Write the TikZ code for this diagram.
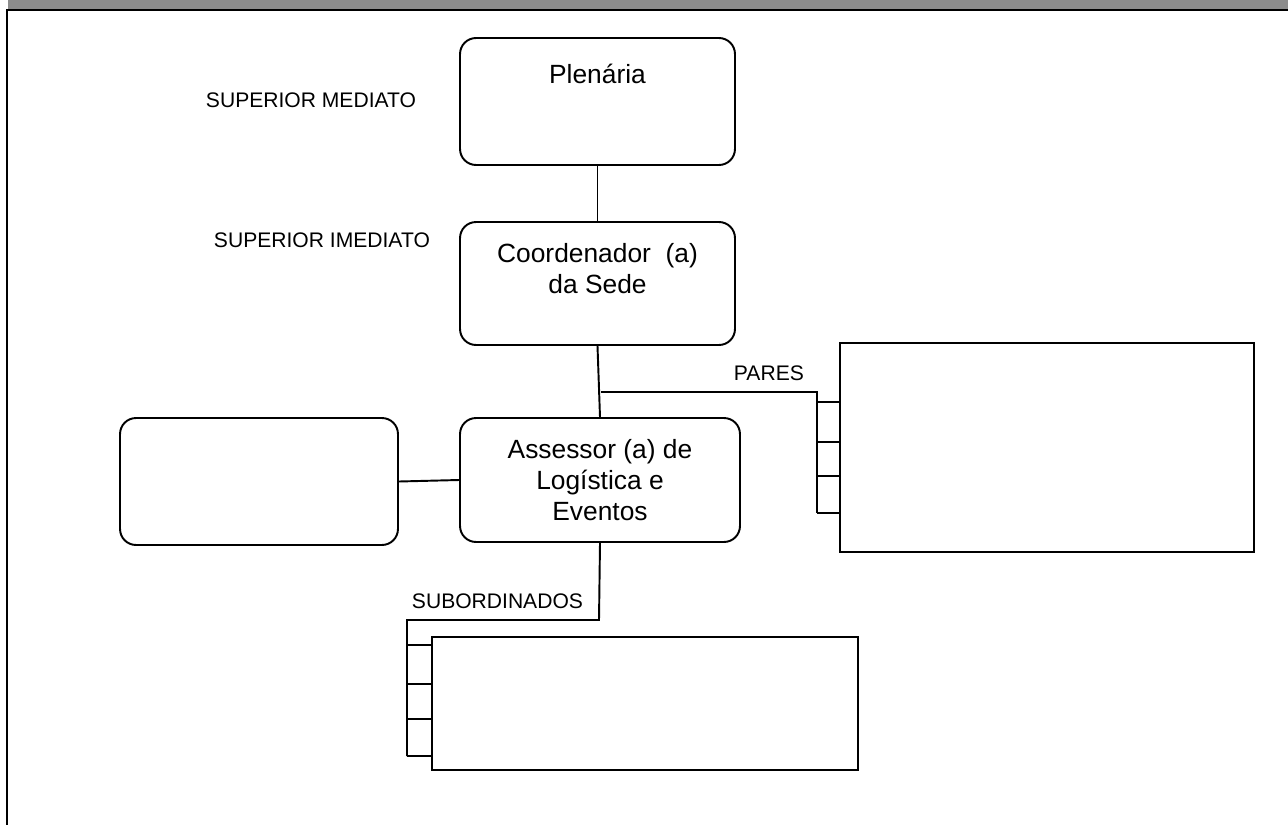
\documentclass[tikz,border=0pt]{standalone}
\usepackage{fontspec}
\setmainfont{Liberation Sans}
\definecolor{bargray}{HTML}{8C8C8C}
\begin{document}
\begin{tikzpicture}[x=0.02cm,y=-0.02cm,
  line width=1.1pt,
  box node/.style={draw,rounded corners=0.32cm,align=center,font=\fontsize{15}{17.6}\selectfont,inner sep=0pt},
  plain box/.style={draw,inner sep=0pt},
  tag/.style={font=\fontsize{12}{14}\selectfont,inner sep=0pt,anchor=west}]

  \useasboundingbox (0,0) rectangle (1288,825);
  % frame
  \fill[bargray] (8,0) rectangle (1288,9);
  \draw[line width=1.6pt] (6,10) -- (1288,10);
  \draw[line width=1.6pt] (7,9) -- (7,825);

  \node[box node,minimum width=5.5cm,minimum height=2.54cm,
    label={[anchor=center,yshift=-0.74cm,font=\fontsize{15}{17.6}\selectfont]north:Plenária}] (plen) at (597.5,101.5){};
  \node[box node,minimum width=5.5cm,minimum height=2.46cm] (coord) at (597.5,283.5){Coordenador\ \ (a)\\da Sede\\~};
  \node[box node,minimum width=5.6cm,minimum height=2.48cm] (asses) at (600,480){Assessor (a) de\\Logística e\\Eventos};
  \node[box node,minimum width=5.56cm,minimum height=2.54cm] (lbox) at (259,481.5){};
  \node[plain box,minimum width=8.28cm,minimum height=4.18cm] (pares) at (1047,447.5){};
  \node[plain box,minimum width=8.52cm,minimum height=2.66cm] (sub) at (645,703.5){};

  \node[tag] (tmed) at (205,100){SUPERIOR MEDIATO};
  \node[tag] (timed) at (213,240){SUPERIOR IMEDIATO};
  \node[tag] (tpar) at (733,373.5){PARES};
  \node[tag] (tsub) at (411,601){SUBORDINADOS};

  \coordinate (pj) at (601,392);
  \coordinate (sj) at (599,620);

  \draw (plen) -- (coord);
  \draw (coord.south) -- (asses.north);
  \draw (lbox.east) -- (asses.west);

  % pares bracket
  \draw (pj) -- (817,392) -- (817,513);
  \foreach \y in {402,442,476,513}
    \draw (817,\y) -- (pares.west |- 0,\y);

  % subordinados bracket
  \draw (asses.south) -- (sj) -- (407,620) -- (407,756);
  \foreach \y in {645,684,719,756}
    \draw (407,\y) -- (sub.west |- 0,\y);
\end{tikzpicture}
\end{document}
